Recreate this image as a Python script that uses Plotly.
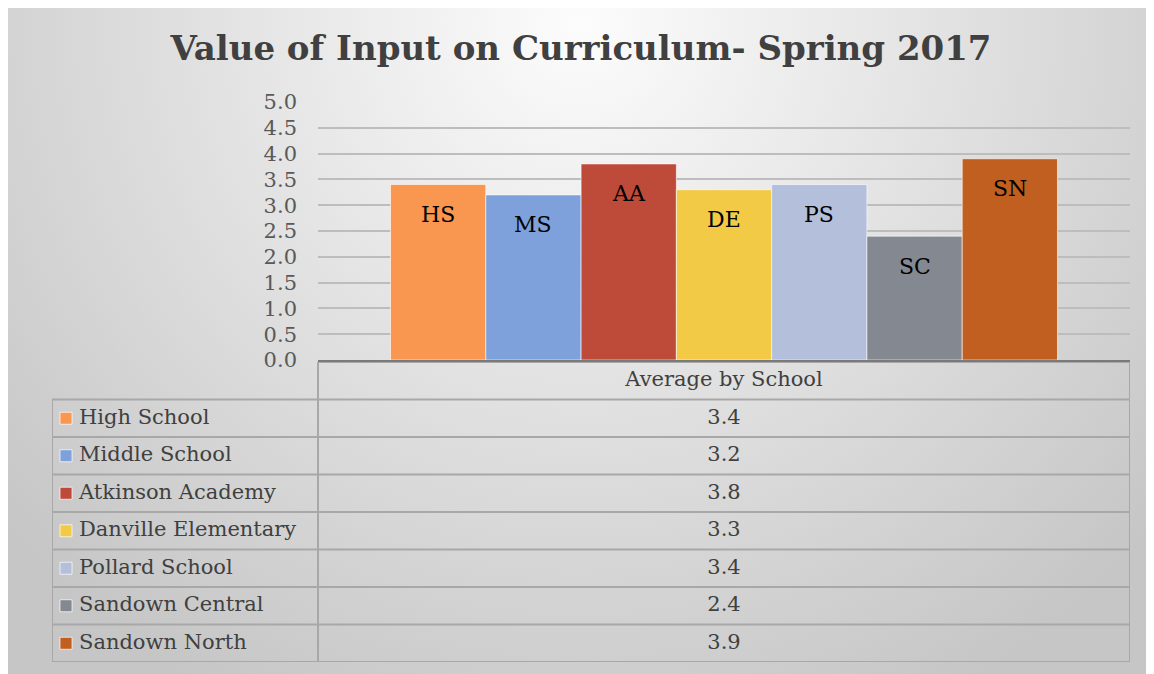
import base64
import plotly.graph_objects as go

# ---------------- data ----------------
category = "Average by School"
schools = ["High School", "Middle School", "Atkinson Academy", "Danville Elementary",
           "Pollard School", "Sandown Central", "Sandown North"]
abbrevs = ["HS", "MS", "AA", "DE", "PS", "SC", "SN"]
values = [3.4, 3.2, 3.8, 3.3, 3.4, 2.4, 3.9]
colors = ["#F9964F", "#7FA1DB", "#BE4A3A", "#F3CA46", "#B3BFDB", "#838891", "#C05F20"]
title_text = "Value of Input on Curriculum- Spring 2017"

# ---------------- layout geometry (reference pixel space) ----------------
OFF = 8                      # page body margin
RW, RH = 1154, 674
W, H = RW - OFF, RH - OFF
TBL_L, PLOT_L, PLOT_R = 52, 318, 1130
PLOT_T, AXIS_B, TBL_T, TBL_B = 102, 360, 362, 662
L, R, T, B = TBL_L - OFF, RW - PLOT_R, PLOT_T - OFF, RH - TBL_B
pw, ph = W - L - R, H - T - B


def px(x):
    return (x - TBL_L) / pw


def py(y):
    return (TBL_B - y) / ph


x_dom = [px(PLOT_L), 1]
y_dom = [py(AXIS_B), 1]
tbl_dom = [0, py(TBL_T)]
bargap = 0.1786

FONT = "DejaVu Serif"
TXT = "#404040"
GRID = "#bdbdbd"
TLINE = "#a8a8a8"

fig = go.Figure()

n = len(values)
bw = (1 - bargap) / n
for i in range(n):
    fig.add_trace(go.Bar(
        x=[category], y=[values[i]], name=schools[i],
        marker=dict(color=colors[i], line=dict(color="rgba(255,255,255,0.6)", width=1)),
        showlegend=False, hoverinfo="name+y",
    ))
    fig.add_annotation(
        x=-(1 - bargap) / 2 + bw * (i + 0.5), y=values[i], xref="x", yref="y",
        yshift=-30, text=abbrevs[i], showarrow=False,
        font=dict(family=FONT, size=22, color="#000000"),
    )

# ---------------- data table (rows indexed 0..n-1, header row at -1) ----------------
rows = list(range(n))
key_x = px(66)
label_x = px(79)
val_x = (x_dom[0] + 1) / 2
fig.add_trace(go.Scatter(
    x=[key_x] * n, y=rows, mode="markers", xaxis="x2", yaxis="y2",
    marker=dict(symbol="square", size=12, color=colors,
                line=dict(color="rgba(255,255,255,0.7)", width=1)),
    hoverinfo="skip", showlegend=False,
))
fig.add_trace(go.Scatter(
    x=[label_x] * n, y=rows, mode="text", xaxis="x2", yaxis="y2",
    text=schools, textposition="middle right",
    textfont=dict(family=FONT, size=21, color=TXT),
    hoverinfo="skip", showlegend=False,
))
fig.add_trace(go.Scatter(
    x=[val_x] * n + [val_x], y=rows + [-1], mode="text", xaxis="x2", yaxis="y2",
    text=[f"{v:.1f}" for v in values] + [category], textposition="middle center",
    textfont=dict(family=FONT, size=21, color=TXT),
    hoverinfo="skip", showlegend=False,
))

line = dict(color=TLINE, width=2)
for i in range(n + 1):
    fig.add_shape(type="line", xref="x2", yref="y2", x0=0, x1=1,
                  y0=i - 0.5, y1=i - 0.5, line=line)
fig.add_shape(type="line", xref="x2", yref="y2", x0=x_dom[0], x1=1,
              y0=-1.5, y1=-1.5, line=line)
fig.add_shape(type="line", xref="x2", yref="y2", x0=0, x1=0,
              y0=-0.5, y1=n - 0.5, line=line)
for xv in (x_dom[0], 1):
    fig.add_shape(type="line", xref="x2", yref="y2", x0=xv, x1=xv,
                  y0=-1.5, y1=n - 0.5, line=line)

# ---------------- background (radial gradient like the source chart) ----------------
bw_px, bh_px = RW - 6, RH - 4
svg = f"""<svg xmlns='http://www.w3.org/2000/svg' width='{bw_px}' height='{bh_px}' viewBox='0 0 {bw_px} {bh_px}'>
<defs><radialGradient id='g' gradientUnits='userSpaceOnUse' cx='{bw_px/2}' cy='20' r='760'>
<stop offset='0' stop-color='#fcfcfc'/><stop offset='1' stop-color='#c6c6c6'/></radialGradient></defs>
<rect x='0' y='0' width='{bw_px}' height='{bh_px}' fill='url(#g)'/>
</svg>"""
src = "data:image/svg+xml;base64," + base64.b64encode(svg.encode()).decode()
fig.add_layout_image(dict(
    source=src, xref="paper", yref="paper",
    x=px(6), y=py(4), sizex=bw_px / pw, sizey=bh_px / ph,
    xanchor="left", yanchor="top", sizing="stretch", layer="below",
))

fig.update_layout(
    width=W, height=H,
    margin=dict(l=L, r=R, t=T, b=B, autoexpand=False),
    paper_bgcolor="white", plot_bgcolor="rgba(0,0,0,0)",
    barmode="group", bargap=bargap, bargroupgap=0,
    title=dict(text=f"<b>{title_text}</b>", x=(581 - OFF) / W, xref="container",
               xanchor="center", y=1 - (48 - OFF) / H, yref="container", yanchor="middle",
               font=dict(family=FONT, size=34, color=TXT), automargin=False),
    xaxis=dict(domain=x_dom, showticklabels=False, showgrid=False, zeroline=False,
               showline=True, linecolor="#7a7a7a", linewidth=3, ticks="", automargin=False),
    yaxis=dict(domain=y_dom, range=[0, 5], dtick=0.5, tickformat=".1f",
               showgrid=True, gridcolor=GRID, gridwidth=2, zeroline=False,
               ticks="", ticklabelstandoff=20, automargin=False,
               tickfont=dict(family=FONT, size=21, color="#595959")),
    xaxis2=dict(domain=[0, 1], range=[0, 1], visible=False, automargin=False),
    yaxis2=dict(domain=tbl_dom, range=[n - 0.5, -1.5], visible=False, automargin=False),
    showlegend=False,
)

fig.write_html("out.html")
